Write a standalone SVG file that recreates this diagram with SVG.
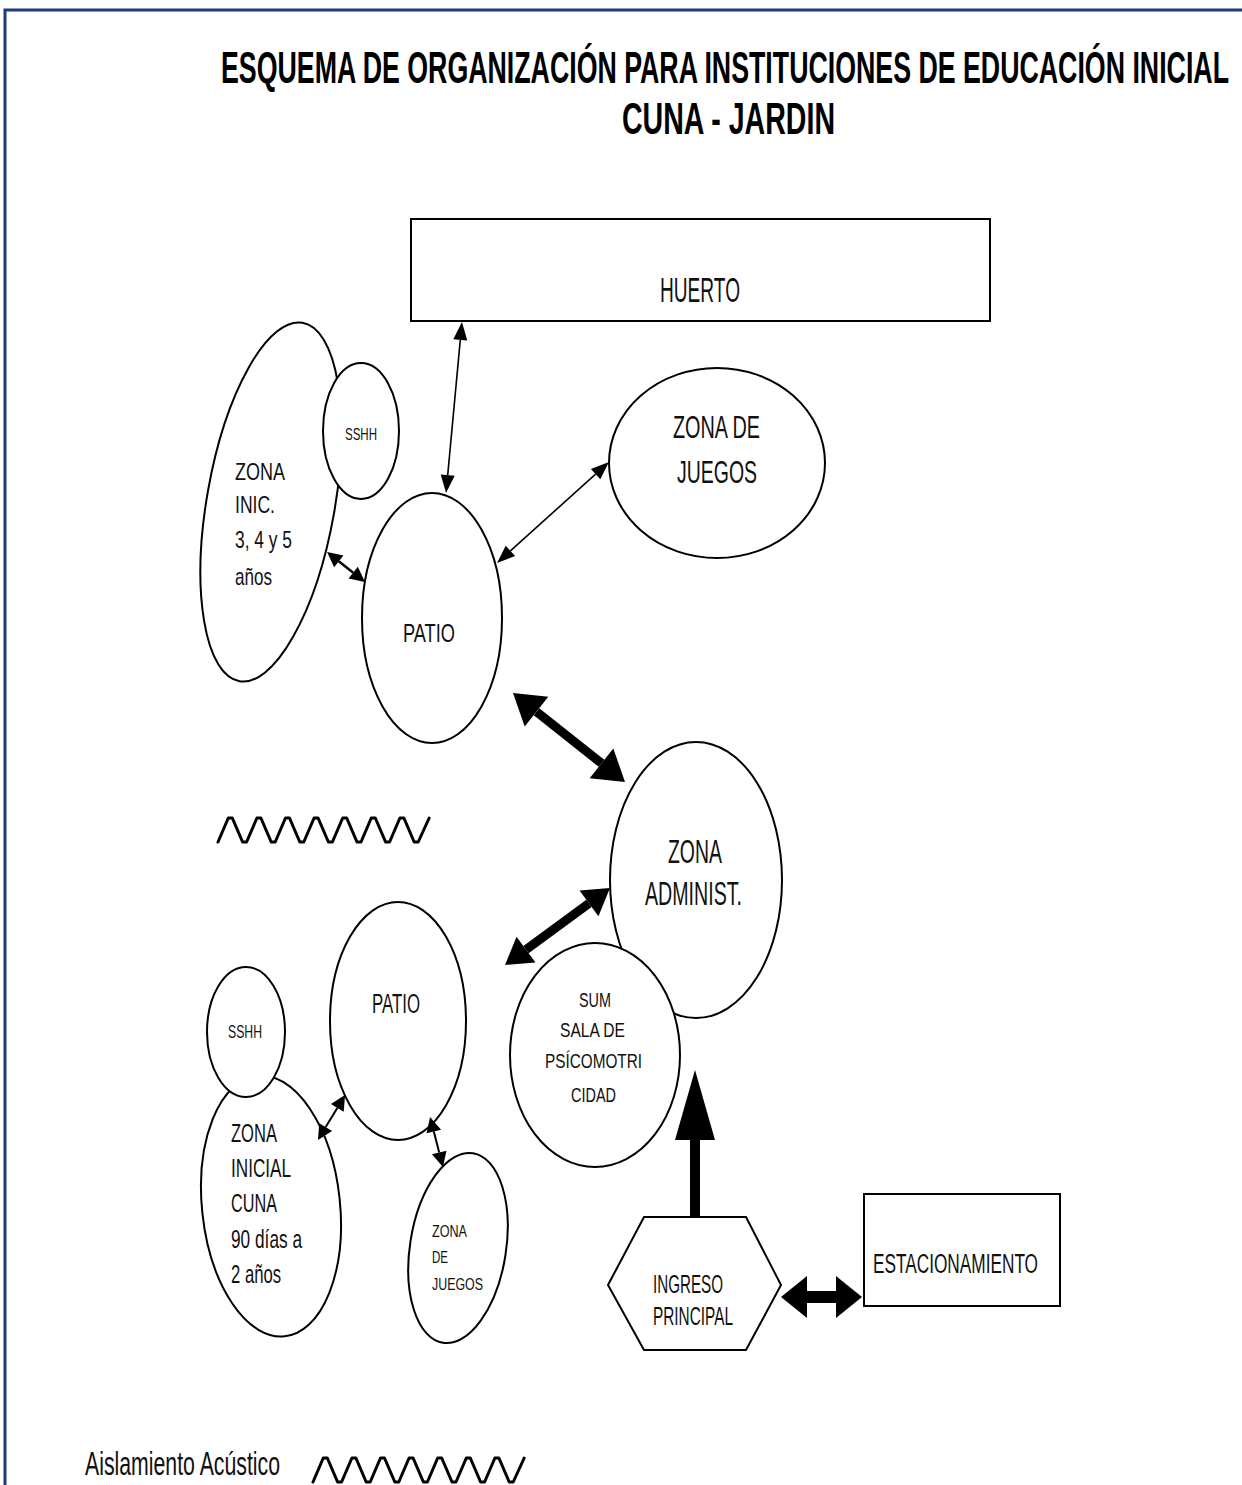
<svg xmlns="http://www.w3.org/2000/svg" xmlns:xlink="http://www.w3.org/1999/xlink" width="1242" height="1485" viewBox="0 0 1242 1485">
<style>
.shape{fill:#fff;stroke:#000;stroke-width:2}
.lbl{font-family:"Liberation Sans Narrow","Liberation Sans",Arial,sans-serif;fill:#111}
.ttl{font-family:"Liberation Sans Narrow","Liberation Sans",Arial,sans-serif;font-weight:bold;fill:#000}
.thin{stroke:#000;stroke-width:1.6;fill:none}
.thick{stroke:#000;fill:none}
.wave{fill:none;stroke:#000;stroke-width:3;stroke-linejoin:round;stroke-linecap:round}
</style>
<defs>
<marker id="aS" markerUnits="userSpaceOnUse" markerWidth="20" markerHeight="14" refX="0" refY="7" orient="auto-start-reverse" overflow="visible"><path d="M0,0 L18,7 L0,14 z" fill="#000"/></marker>
<marker id="aT" markerUnits="userSpaceOnUse" markerWidth="16" markerHeight="15" refX="0" refY="7.5" orient="auto-start-reverse" overflow="visible"><path d="M0,0 L15,7.5 L0,15 z" fill="#000"/></marker>
<marker id="aB" markerUnits="userSpaceOnUse" markerWidth="30" markerHeight="38" refX="0" refY="19" orient="auto-start-reverse" overflow="visible"><path d="M0,0 L30,19 L0,38 z" fill="#000"/></marker>
<marker id="aM" markerUnits="userSpaceOnUse" markerWidth="26" markerHeight="32" refX="0" refY="16" orient="auto-start-reverse" overflow="visible"><path d="M0,0 L26,16 L0,32 z" fill="#000"/></marker>
<marker id="aUp" markerUnits="userSpaceOnUse" markerWidth="70" markerHeight="40" refX="0" refY="20" orient="auto" overflow="visible"><path d="M0,0 L70,20 L0,40 z" fill="#000"/></marker>
<marker id="aH" markerUnits="userSpaceOnUse" markerWidth="26" markerHeight="42" refX="0" refY="21" orient="auto-start-reverse" overflow="visible"><path d="M0,0 L26,21 L0,42 z" fill="#000"/></marker>
<path id="wavePath" d="M0,24 l10.3,-24 h4 l10.3,24 h4 l10.3,-24 h4 l10.3,24 h4 l10.3,-24 h4 l10.3,24 h4 l10.3,-24 h4 l10.3,24 h4 l10.3,-24 h4 l10.3,24 h4 l10.3,-24 h4 l10.3,24 h4 l10.3,-24 h4 l10.3,24 h4 l11,-24"/>
</defs>
<rect width="1242" height="1485" fill="#fff"/>
<path d="M5,1485 V10 H1242" fill="none" stroke="#1f3b7c" stroke-width="3"/>

<g id="title">
<text class="ttl" x="0" y="0" font-size="24" textLength="1008" lengthAdjust="spacingAndGlyphs" transform="translate(221 83) scale(1 1.875)">ESQUEMA DE ORGANIZACIÓN PARA INSTITUCIONES DE EDUCACIÓN INICIAL</text>
<text class="ttl" x="0" y="0" font-size="24" textLength="213" lengthAdjust="spacingAndGlyphs" transform="translate(622 134) scale(1 1.875)">CUNA - JARDIN</text>
</g>

<g id="huerto">
<rect class="shape" x="411" y="219" width="579" height="102"/>
<text class="lbl" x="660" y="302" font-size="35" textLength="80" lengthAdjust="spacingAndGlyphs">HUERTO</text>
</g>

<g id="zona-inic">
<ellipse class="shape" cx="271" cy="502" rx="64" ry="182" transform="rotate(10 271 502)"/>
<text class="lbl" x="235" y="480" font-size="24" textLength="50" lengthAdjust="spacingAndGlyphs">ZONA</text>
<text class="lbl" x="235" y="513" font-size="24" textLength="40" lengthAdjust="spacingAndGlyphs">INIC.</text>
<text class="lbl" x="235" y="548" font-size="24" textLength="57" lengthAdjust="spacingAndGlyphs">3, 4 y 5</text>
<text class="lbl" x="235" y="585" font-size="24" textLength="37" lengthAdjust="spacingAndGlyphs">años</text>
</g>

<g id="sshh-top">
<ellipse class="shape" cx="361" cy="431" rx="38" ry="68"/>
<text class="lbl" x="345" y="440" font-size="17" textLength="32" lengthAdjust="spacingAndGlyphs">SSHH</text>
</g>

<g id="patio-top">
<ellipse class="shape" cx="432" cy="618" rx="70" ry="125"/>
<text class="lbl" x="403" y="642" font-size="25" textLength="52" lengthAdjust="spacingAndGlyphs">PATIO</text>
</g>

<g id="juegos-top">
<ellipse class="shape" cx="717" cy="463" rx="108" ry="95"/>
<text class="lbl" x="673" y="438" font-size="32" textLength="87" lengthAdjust="spacingAndGlyphs">ZONA DE</text>
<text class="lbl" x="677" y="483" font-size="32" textLength="80" lengthAdjust="spacingAndGlyphs">JUEGOS</text>
</g>

<g id="zona-admin">
<ellipse class="shape" cx="696" cy="880" rx="86" ry="138"/>
<text class="lbl" x="668" y="863" font-size="34" textLength="54" lengthAdjust="spacingAndGlyphs">ZONA</text>
<text class="lbl" x="645" y="905" font-size="34" textLength="97" lengthAdjust="spacingAndGlyphs">ADMINIST.</text>
</g>

<g id="sum">
<ellipse class="shape" cx="595" cy="1055" rx="85" ry="112"/>
<text class="lbl" x="579" y="1007" font-size="21" textLength="32" lengthAdjust="spacingAndGlyphs">SUM</text>
<text class="lbl" x="560" y="1037" font-size="21" textLength="65" lengthAdjust="spacingAndGlyphs">SALA DE</text>
<text class="lbl" x="545" y="1068" font-size="21" textLength="97" lengthAdjust="spacingAndGlyphs">PSÍCOMOTRI</text>
<text class="lbl" x="571" y="1102" font-size="21" textLength="45" lengthAdjust="spacingAndGlyphs">CIDAD</text>
</g>

<g id="patio-bottom">
<ellipse class="shape" cx="398" cy="1021" rx="68" ry="119"/>
<text class="lbl" x="372" y="1013" font-size="27" textLength="48" lengthAdjust="spacingAndGlyphs">PATIO</text>
</g>

<g id="zona-cuna">
<ellipse class="shape" cx="271" cy="1206" rx="69" ry="131" transform="rotate(-6 271 1206)"/>
<text class="lbl" x="231" y="1142" font-size="26" textLength="46" lengthAdjust="spacingAndGlyphs">ZONA</text>
<text class="lbl" x="231" y="1177" font-size="26" textLength="60" lengthAdjust="spacingAndGlyphs">INICIAL</text>
<text class="lbl" x="231" y="1212" font-size="26" textLength="46" lengthAdjust="spacingAndGlyphs">CUNA</text>
<text class="lbl" x="231" y="1248" font-size="26" textLength="71" lengthAdjust="spacingAndGlyphs">90 días a</text>
<text class="lbl" x="231" y="1283" font-size="26" textLength="50" lengthAdjust="spacingAndGlyphs">2 años</text>
</g>

<g id="sshh-bottom">
<ellipse class="shape" cx="246" cy="1032" rx="39" ry="65"/>
<text class="lbl" x="228" y="1038" font-size="18" textLength="34" lengthAdjust="spacingAndGlyphs">SSHH</text>
</g>

<g id="juegos-bottom">
<ellipse class="shape" cx="458" cy="1248" rx="48" ry="96" transform="rotate(9 458 1248)"/>
<text class="lbl" x="432" y="1237" font-size="17" textLength="35" lengthAdjust="spacingAndGlyphs">ZONA</text>
<text class="lbl" x="432" y="1263" font-size="17" textLength="16" lengthAdjust="spacingAndGlyphs">DE</text>
<text class="lbl" x="432" y="1290" font-size="17" textLength="51" lengthAdjust="spacingAndGlyphs">JUEGOS</text>
</g>

<g id="ingreso">
<polygon class="shape" points="608,1285 644,1217 746,1217 781,1285 746,1350 644,1350"/>
<text class="lbl" x="653" y="1293" font-size="25" textLength="70" lengthAdjust="spacingAndGlyphs">INGRESO</text>
<text class="lbl" x="653" y="1325" font-size="25" textLength="80" lengthAdjust="spacingAndGlyphs">PRINCIPAL</text>
</g>

<g id="estacionamiento">
<rect class="shape" x="864" y="1194" width="196" height="112"/>
<text class="lbl" x="873" y="1273" font-size="27" textLength="165" lengthAdjust="spacingAndGlyphs">ESTACIONAMIENTO</text>
</g>

<g id="connectors">
<line class="thin" x1="460.3" y1="339.9" x2="447.7" y2="475.1" marker-start="url(#aS)" marker-end="url(#aS)"/>
<line class="thin" x1="510.4" y1="550.9" x2="595.6" y2="474.1" marker-start="url(#aS)" marker-end="url(#aS)"/>
<line class="thick" stroke-width="2.5" x1="338.8" y1="561.3" x2="353.2" y2="572.7" marker-start="url(#aT)" marker-end="url(#aT)"/>
<line class="thick" stroke-width="9" x1="536.5" y1="711.7" x2="601.5" y2="763.3" marker-start="url(#aB)" marker-end="url(#aB)"/>
<line class="thick" stroke-width="9" x1="589" y1="903.4" x2="526" y2="949.6" marker-start="url(#aM)" marker-end="url(#aM)"/>
<line class="thick" stroke-width="2" x1="337.3" y1="1107.9" x2="325.7" y2="1127.1" marker-start="url(#aT)" marker-end="url(#aT)"/>
<line class="thick" stroke-width="2" x1="433.8" y1="1131.5" x2="439.2" y2="1152.5" marker-start="url(#aT)" marker-end="url(#aT)"/>
<line class="thick" stroke-width="10" x1="695" y1="1217" x2="695" y2="1140" marker-end="url(#aUp)"/>
<line class="thick" stroke-width="12" x1="807" y1="1297" x2="836" y2="1297" marker-start="url(#aH)" marker-end="url(#aH)"/>
</g>

<g id="legend">
<use xlink:href="#wavePath" href="#wavePath" class="wave" transform="translate(218 818)"/>
<use xlink:href="#wavePath" href="#wavePath" class="wave" transform="translate(313 1458)"/>
<text class="lbl" x="85" y="1475" font-size="33" textLength="195" lengthAdjust="spacingAndGlyphs">Aislamiento Acústico</text>
</g>
</svg>
